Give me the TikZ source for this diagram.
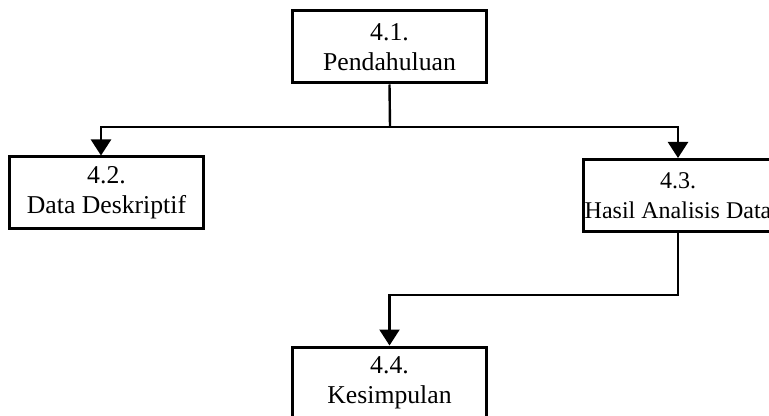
\documentclass[tikz,border=0pt]{standalone}
\usepackage{fontspec}
\setmainfont{Liberation Serif}
\usetikzlibrary{positioning, arrows.meta, calc}

\tikzset{
  chapbox/.style={draw, black, line width=1.5pt, align=center, inner xsep=0pt, inner ysep=0pt,
    minimum width=97pt, minimum height=36pt, font=\fontsize{12.85}{15}\selectfont},
  link/.style={black, line width=1.2pt},
  linkarrow/.style={link, -{Triangle[width=10pt,length=8pt]}}
}

\begin{document}
\begin{tikzpicture}[x=0.5pt, y=-0.5pt]
    \useasboundingbox (0,0) rectangle (769,416);
    \clip (0,0) rectangle (769,416);
    \fill[white] (0,0) rectangle (769,416);
    % boxes
    \node[chapbox] (pendahuluan) at (389.5,47) {4.1.\\Pendahuluan};
    \node[chapbox] (deskriptif) at (106.5,193) {4.2.\\Data Deskriptif};
    \node[chapbox, minimum width=95pt, font=\fontsize{12}{15}\selectfont] (analisis) at (678,195.5) {4.3.\\Hasil Analisis Data};
    \node[chapbox] (kesimpulan) at (389.5,383) {4.4.\\Kesimpulan};
    % connectors
    \coordinate (split) at (390,127);
    \coordinate (turn) at (530,295);
    \draw[link] (pendahuluan.south) -- (split);
    \draw[linkarrow] (split) -| ([xshift=-2.75pt]deskriptif.north);
    \draw[linkarrow] (split) -| (analisis.north);
    \draw[linkarrow] (analisis.south) |- (turn) -| (kesimpulan.north);
  \end{tikzpicture}
\end{document}
